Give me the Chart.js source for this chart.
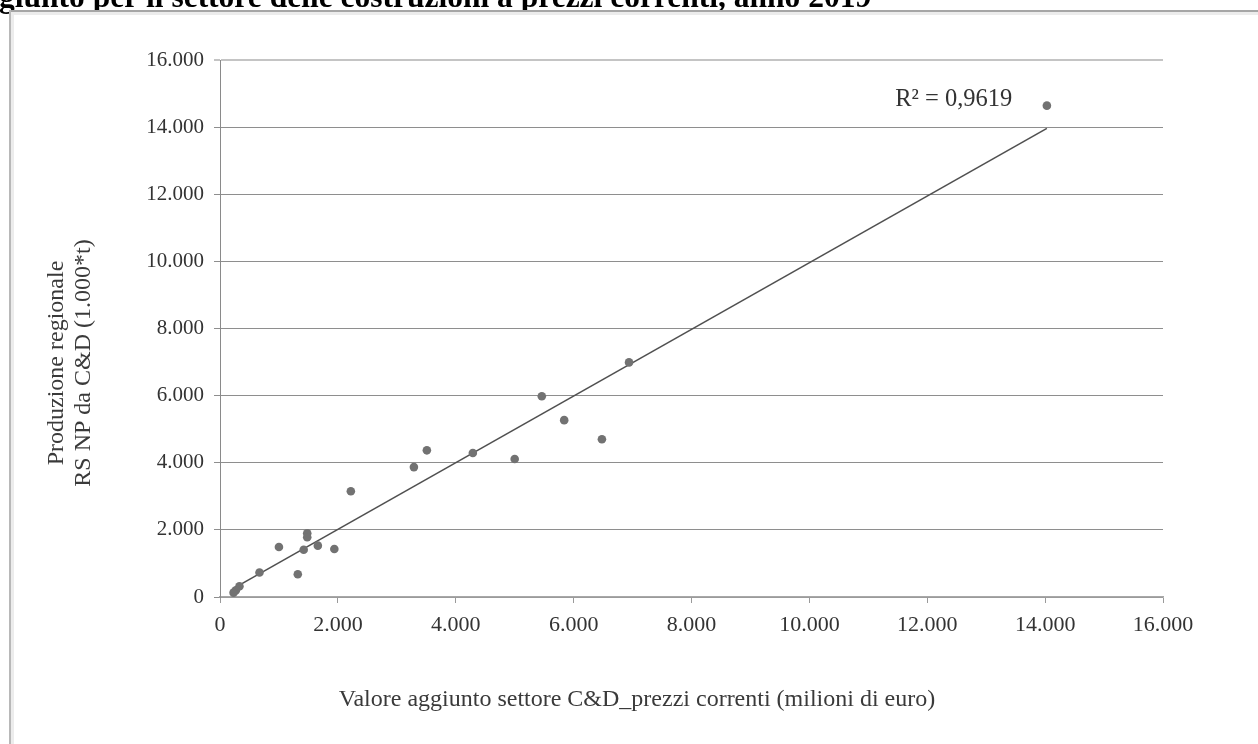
<!DOCTYPE html>
<html lang="it">
<head>
<meta charset="utf-8">
<title>Produzione regionale RS NP da C&amp;D e valore aggiunto</title>
<script src="https://cdn.jsdelivr.net/npm/chart.js@4.4.1/dist/chart.umd.min.js"></script>
<style>
  html, body { margin: 0; padding: 0; background: #ffffff; }
  #wrap { position: relative; width: 1258px; height: 744px; overflow: hidden; }
  canvas { display: block; }
</style>
</head>
<body>
<div id="wrap"><canvas id="chart" width="1258" height="744"></canvas></div>
<script>
// Valore aggiunto settore C&D (milioni di euro), one entry per regione
const valoreAggiunto = [14030, 6940, 5460, 5840, 6480, 5000, 4290, 3510, 3290, 2220,
                        1000, 1480, 1480, 1420, 1660, 1940, 1320, 670, 330, 270, 230];
// Produzione regionale RS NP da C&D (1.000*t), same order
const produzioneRS = [14640, 6990, 5980, 5270, 4700, 4110, 4290, 4370, 3870, 3150,
                      1490, 1900, 1780, 1410, 1530, 1430, 680, 730, 320, 200, 130];

const xTickLabels = ['0', '2.000', '4.000', '6.000', '8.000', '10.000', '12.000', '14.000', '16.000'];
const yTickLabels = ['0', '2.000', '4.000', '6.000', '8.000', '10.000', '12.000', '14.000', '16.000'];

const titleText = 'giunto per il settore delle costruzioni a prezzi correnti, anno 2019';
const xTitle = 'Valore aggiunto settore C&D_prezzi correnti (milioni di euro)';
const yTitleLines = ['Produzione regionale', 'RS NP da C&D (1.000*t)'];
const r2Text = 'R\u00B2 = 0,9619';

// Least-squares trend line over the data range
function linearFit(xs, ys) {
  const n = xs.length;
  const mx = xs.reduce((a, b) => a + b, 0) / n;
  const my = ys.reduce((a, b) => a + b, 0) / n;
  let sxy = 0, sxx = 0;
  for (let i = 0; i < n; i++) {
    sxy += (xs[i] - mx) * (ys[i] - my);
    sxx += (xs[i] - mx) * (xs[i] - mx);
  }
  const slope = sxy / sxx;
  return { slope, intercept: my - slope * mx };
}
const fit = linearFit(valoreAggiunto, produzioneRS);
const xMin = Math.min(...valoreAggiunto), xMax = Math.max(...valoreAggiunto);
const trendPoints = [xMin, xMax].map(x => ({ x, y: fit.slope * x + fit.intercept }));

const points = valoreAggiunto.map((x, i) => ({ x, y: produzioneRS[i] }));

const SERIF = '"Liberation Serif", "Times New Roman", serif';

const decorPlugin = {
  id: 'decor',
  beforeDraw(chart) {
    const ctx = chart.ctx;
    ctx.save();
    ctx.fillStyle = '#ffffff';
    ctx.fillRect(0, 0, chart.width, chart.height);
    // heading line above the frame
    ctx.fillStyle = '#000000';
    ctx.font = 'bold 31.5px ' + SERIF;
    ctx.textAlign = 'left';
    ctx.textBaseline = 'alphabetic';
    ctx.fillText(titleText, -1, 7);
    // frame with a soft shadow
    ctx.fillStyle = '#ececec';
    ctx.fillRect(11, 12, chart.width, 3);
    ctx.fillRect(11, 12, 3, chart.height);
    ctx.fillStyle = '#a6a6a6';
    ctx.fillRect(9, 10, chart.width, 2);
    ctx.fillStyle = '#b8b8b8';
    ctx.fillRect(9, 10, 2, chart.height);
    ctx.restore();
  },
  afterDraw(chart) {
    const ctx = chart.ctx;
    const area = chart.chartArea;
    const xs = chart.scales.x, ys = chart.scales.y;
    ctx.save();
    ctx.fillStyle = '#3a3a3a';
    ctx.font = '24px ' + SERIF;
    ctx.textAlign = 'center';
    ctx.textBaseline = 'middle';
    // x axis title
    ctx.fillText(xTitle, 637, 700);
    // y axis title, two rotated lines
    ctx.save();
    ctx.translate(70.5, 363);
    ctx.rotate(-Math.PI / 2);
    ctx.fillText(yTitleLines[0], 0, -13.5);
    ctx.fillText(yTitleLines[1], 0, 13.5);
    ctx.restore();
    // R² label near the upper end of the trend line
    ctx.fillStyle = '#333333';
    ctx.font = '24.5px ' + SERIF;
    ctx.fillText(r2Text, xs.getPixelForValue(12450), ys.getPixelForValue(14820));
    ctx.restore();
  }
};

new Chart(document.getElementById('chart'), {
  type: 'scatter',
  data: {
    datasets: [
      {
        label: 'Regioni',
        data: points,
        pointRadius: 4.3,
        pointHoverRadius: 4.3,
        pointBackgroundColor: '#727272',
        pointBorderWidth: 0,
        order: 1
      },
      {
        label: 'Lineare',
        type: 'line',
        data: trendPoints,
        borderColor: '#505050',
        borderWidth: 1.6,
        pointRadius: 0,
        fill: false,
        tension: 0,
        order: 2
      }
    ]
  },
  options: {
    responsive: false,
    animation: false,
    events: [],
    layout: { padding: { left: 0, top: 60, right: 95, bottom: 0 } },
    plugins: {
      legend: { display: false },
      tooltip: { enabled: false },
      title: { display: false }
    },
    scales: {
      x: {
        type: 'linear',
        min: 0,
        max: 16000,
        afterFit(scale) { scale.height = 147; },
        ticks: {
          stepSize: 2000,
          padding: 9,
          color: '#333333',
          font: { family: SERIF, size: 22 },
          maxRotation: 0,
          autoSkip: false,
          callback: (v, i) => xTickLabels[i]
        },
        grid: {
          drawOnChartArea: false,
          drawTicks: true,
          tickLength: 6,
          color: '#9a9a9a',
          lineWidth: 1
        },
        border: { display: true, color: '#a8a8a8', width: 1.5 }
      },
      y: {
        type: 'linear',
        min: 0,
        max: 16000,
        afterFit(scale) { scale.width = 220; },
        ticks: {
          stepSize: 2000,
          padding: 10,
          color: '#333333',
          font: { family: SERIF, size: 21 },
          autoSkip: false,
          callback: (v, i) => yTickLabels[i]
        },
        grid: {
          drawTicks: true,
          tickLength: 6,
          color: ctx => (ctx.tick && ctx.tick.value === 16000 ? '#c4c4c4' : '#8e8e8e'),
          lineWidth: ctx => (ctx.tick && ctx.tick.value === 16000 ? 2 : 1)
        },
        border: { display: true, color: '#8a8a8a', width: 1 }
      }
    }
  },
  plugins: [decorPlugin]
});
</script>
</body>
</html>
